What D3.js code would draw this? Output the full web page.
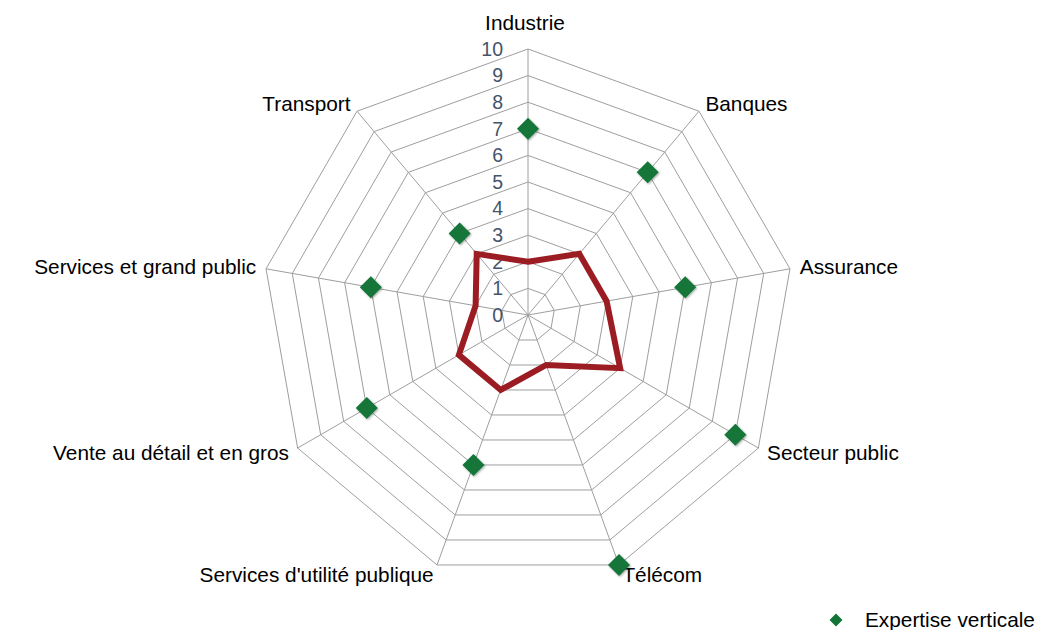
<!DOCTYPE html>
<html><head><meta charset="utf-8">
<script src="https://cdn.jsdelivr.net/npm/d3@7"></script>
<style>body{margin:0;background:#fff}svg{display:block;font-family:"Liberation Sans",Arial,sans-serif}</style>
</head><body><svg id="c" width="1056" height="630"></svg>
<script>
const categories = ["Industrie","Banques","Assurance","Secteur public","Télécom","Services d'utilité publique","Vente au détail et en gros","Services et grand public","Transport"];
const expertiseVerticale = [7,7,6,9,10,6,7,6,4];
const serieRouge = [2,3,3,4,2,3,3,2,3];
const tickValues = [0,1,2,3,4,5,6,7,8,9,10];
const legendLabel = "Expertise verticale";

const svg = d3.select("#c");
const cx = 528, cy = 315, R = 266;
const r = d3.scaleLinear().domain([0,10]).range([0,R]);
const ang = d3.scaleLinear().domain([0,categories.length]).range([0,2*Math.PI]);
const pt = (i,v) => [cx + r(v)*Math.sin(ang(i)), cy - r(v)*Math.cos(ang(i))];

const g = svg.append("g");
tickValues.filter(t=>t>0).forEach(t=>{
  g.append("path")
    .attr("d", d3.line()(categories.map((c,i)=>pt(i,t))) + "Z")
    .attr("fill","none").attr("stroke","#9e9e9e").attr("stroke-width",1);
});
categories.forEach((c,i)=>{
  const p = pt(i,10);
  g.append("line").attr("x1",cx).attr("y1",cy).attr("x2",p[0]).attr("y2",p[1])
    .attr("stroke","#9e9e9e").attr("stroke-width",1);
});
g.selectAll("text.tick").data(tickValues).join("text")
  .attr("x",cx-25).attr("y",d=>cy-r(d)).attr("dy","0.35em")
  .attr("text-anchor","end").attr("font-size",19.5).attr("fill","#44546a")
  .text(d=>d);
categories.forEach((c,i)=>{
  const a = ang(i), s = Math.sin(a);
  let x = cx + (R+10)*s, y = cy - (R+10)*Math.cos(a);
  let anchor = Math.abs(s)<0.01 ? "middle" : (s>0 ? "start":"end");
  if (i===0) { y = cy - R - 26; x = cx - 3; }
  g.append("text").attr("x",x).attr("y",y).attr("dy","0.35em")
    .attr("text-anchor",anchor).attr("font-size",20.8).attr("fill","#000").text(c);
});
g.append("path")
  .attr("d", d3.line()(serieRouge.map((v,i)=>pt(i,v))) + "Z")
  .attr("fill","none").attr("stroke","#9b1d23").attr("stroke-width",6).attr("stroke-linejoin","miter");
const defs = svg.append("defs");
const f = defs.append("filter").attr("id","sh").attr("x","-50%").attr("y","-50%").attr("width","200%").attr("height","200%");
f.append("feDropShadow").attr("dx",1).attr("dy",1).attr("stdDeviation",1.2).attr("flood-color","#000").attr("flood-opacity",0.35);
const diamond = (x,y,h)=>`M${x},${y-h}L${x+h},${y}L${x},${y+h}L${x-h},${y}Z`;
expertiseVerticale.forEach((v,i)=>{
  const p = pt(i,v);
  g.append("path").attr("d",diamond(p[0],p[1],11)).attr("fill","#127537").attr("filter","url(#sh)");
});
svg.append("path").attr("d",diamond(836,620,6.5)).attr("fill","#127537");
svg.append("text").attr("x",865).attr("y",620).attr("dy","0.35em").attr("font-size",20.8).attr("fill","#000").text(legendLabel);
</script></body></html>
